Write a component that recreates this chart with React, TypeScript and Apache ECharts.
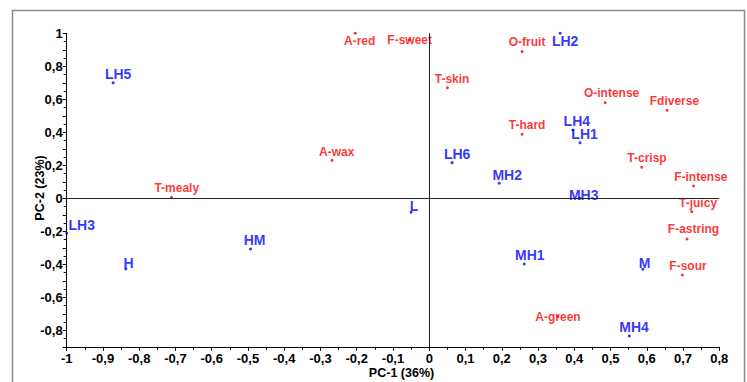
import React, { useEffect, useRef } from "react";
import * as echarts from "echarts";

// Samples (blue)
const sampleNames = ["LH5", "LH2", "LH4", "LH1", "LH6", "MH2", "MH3", "L", "HM", "H", "LH3", "MH1", "M", "MH4"];
const sampleX = [-0.872, 0.361, 0.396, 0.416, 0.063, 0.193, 0.415, -0.05, -0.493, -0.837, -1.0, 0.262, 0.589, 0.552];
const sampleY = [0.7, 1.0, 0.414, 0.337, 0.216, 0.091, 0.0, -0.085, -0.307, -0.428, -0.212, -0.398, -0.43, -0.835];

// Attributes (red)
const attrNames = ["T-mealy", "A-red", "F-sweet", "T-skin", "A-wax", "O-fruit", "O-intense", "Fdiverse", "T-hard", "T-crisp", "F-intense", "T-juicy", "F-astring", "F-sour", "A-green"];
const attrX = [-0.711, -0.204, -0.054, 0.05, -0.268, 0.256, 0.485, 0.656, 0.256, 0.586, 0.729, 0.724, 0.711, 0.698, 0.355];
const attrY = [0.006, 1.0, 0.96, 0.67, 0.23, 0.889, 0.579, 0.533, 0.388, 0.188, 0.075, -0.081, -0.247, -0.465, -0.718];

// Label offsets (style)
const sampleLabelOffset: Record<string, [number, number]> = {
  LH5: [5, -9], LH2: [5, 8], LH4: [4, -9], LH1: [4.5, -8.5], LH6: [5, -9], MH2: [8, -8.5],
  MH3: [4, -3], L: [3, -6], HM: [4, -9], H: [2.7, -5.7], LH3: [15, -8], MH1: [5.5, -9], M: [1.8, -6.6], MH4: [4.7, -9.3],
};
const attrLabelOffset: Record<string, [number, number]> = {
  "T-mealy": [5.3, -9.3], "A-red": [4.4, 7.7], "F-sweet": [0, 0], "T-skin": [4.7, -8.7], "A-wax": [4.7, -8.6],
  "O-fruit": [5, -9.4], "O-intense": [6.5, -9.4], Fdiverse: [7.3, -9.6], "T-hard": [5, -9.3], "T-crisp": [5.3, -9],
  "F-intense": [7.3, -9.3], "T-juicy": [6.3, -9], "F-astring": [6.5, -9.7], "F-sour": [5.7, -9.3], "A-green": [0, 0],
};

const FONT = "'Liberation Sans', Arial, sans-serif";

const fmt = (v: number) => {
  const r = Math.round(v * 10) / 10;
  return String(r).replace(".", ",");
};

export default function App() {
  const ref = useRef<HTMLDivElement>(null);
  useEffect(() => {
    if (!ref.current) return;
    const chart = echarts.init(ref.current, undefined, { renderer: "svg" });
    const sampleData = sampleNames.map((n, i) => ({
      name: n,
      value: [sampleX[i], sampleY[i]],
      label: { offset: sampleLabelOffset[n] || [5, -9] },
    }));
    const attrData = attrNames.map((n, i) => ({
      name: n,
      value: [attrX[i], attrY[i]],
      label: { offset: attrLabelOffset[n] || [5, -9] },
    }));
    chart.setOption({
      animation: false,
      backgroundColor: "#ffffff",
      grid: { left: 66.7, right: 27.7, top: 33.3, bottom: 35.2, containLabel: false },
      xAxis: {
        type: "value",
        min: -1,
        max: 0.8,
        interval: 0.1,
        axisLine: { show: true, onZero: false, lineStyle: { color: "#000", width: 1 } },
        axisTick: { show: true, length: 4, lineStyle: { color: "#000" } },
        minorTick: { show: true, splitNumber: 2, length: 3, lineStyle: { color: "#000" } },
        splitLine: { show: false },
        axisLabel: {
          color: "#000",
          fontFamily: FONT,
          fontWeight: "bold",
          fontSize: 13,
          margin: 5,
          lineHeight: 13,
          formatter: (v: number) => fmt(v),
        },
      },
      yAxis: {
        type: "value",
        min: -0.9,
        max: 1,
        interval: 0.1,
        axisLine: { show: true, onZero: false, lineStyle: { color: "#000", width: 1 } },
        axisTick: { show: true, length: 4, lineStyle: { color: "#000" } },
        minorTick: { show: true, splitNumber: 2, length: 3, lineStyle: { color: "#000" } },
        splitLine: { show: false },
        axisLabel: {
          color: "#000",
          fontFamily: FONT,
          fontWeight: "bold",
          fontSize: 13,
          margin: 4,
          formatter: (v: number) => (Math.abs(Math.round(v * 10)) % 2 === 0 ? fmt(v) : ""),
        },
      },
      series: [
        {
          type: "scatter",
          name: "samples",
          symbol: "circle",
          symbolSize: 3,
          clip: false,
          itemStyle: { color: "#0000ff" },
          label: {
            show: true,
            position: "inside",
            formatter: "{b}",
            color: "#0000ff",
            fontFamily: FONT,
            fontWeight: "bold",
            fontSize: 14,
            align: "center",
            verticalAlign: "middle",
          },
          data: sampleData,
          markLine: {
            silent: true,
            symbol: "none",
            label: { show: false },
            lineStyle: { color: "#222", width: 1, type: "solid" },
            data: [{ xAxis: 0 }, { yAxis: 0 }],
          },
          z: 3,
        },
        {
          type: "scatter",
          name: "attributes",
          symbol: "circle",
          symbolSize: 3,
          clip: false,
          itemStyle: { color: "#ff0000" },
          label: {
            show: true,
            position: "inside",
            formatter: "{b}",
            color: "#ff0000",
            fontFamily: FONT,
            fontWeight: "bold",
            fontSize: 12,
            align: "center",
            verticalAlign: "middle",
          },
          data: attrData,
          z: 3,
        },
      ],
      graphic: [
        {
          type: "rect",
          shape: { x: 12.5, y: 10.5, width: 732, height: 380 },
          style: { fill: "none", stroke: "#8a8a8a", lineWidth: 1.5 },
          silent: true,
          z: 0,
        },
        {
          type: "text",
          x: 401.5,
          y: 372.5,
          style: {
            text: "PC-1 (36%)",
            fill: "#000",
            font: `bold 12.5px ${FONT}`,
            align: "center",
            verticalAlign: "middle",
          },
        },
        {
          type: "text",
          x: 40,
          y: 188,
          rotation: Math.PI / 2,
          style: {
            text: "PC-2 (23%)",
            fill: "#000",
            font: `bold 12.5px ${FONT}`,
            align: "center",
            verticalAlign: "middle",
          },
        },
      ],
    });
    return () => chart.dispose();
  }, []);
  return (
    <div
      ref={ref}
      style={{ position: "fixed", left: 0, top: 0, width: 747, height: 382, background: "#fff" }}
    />
  );
}
